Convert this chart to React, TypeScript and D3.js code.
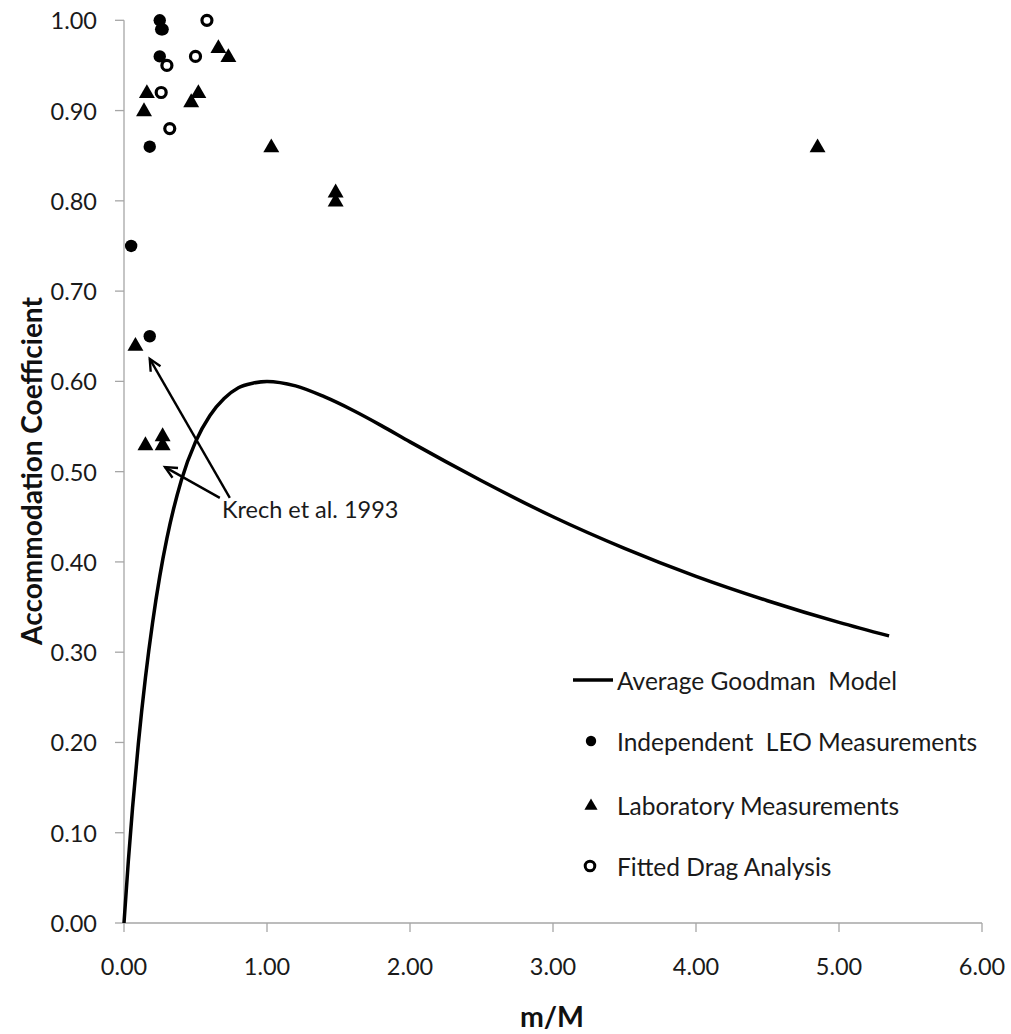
import React from "react";
import * as d3 from "d3";

// Average Goodman model curve (m/M, accommodation coefficient)
const modelX = [0, 0.03, 0.06, 0.1, 0.15, 0.2, 0.25, 0.3, 0.4, 0.5, 0.6, 0.7, 0.8, 0.9, 1.0, 1.2, 1.4, 1.6, 1.8, 2.0, 2.5, 3.0, 3.5, 4.0, 4.5, 5.0, 5.35];
const modelY = [0, 0.068, 0.128, 0.198, 0.272, 0.333, 0.384, 0.426, 0.49, 0.533, 0.562, 0.581, 0.593, 0.598, 0.6, 0.595, 0.583, 0.568, 0.551, 0.533, 0.49, 0.45, 0.415, 0.384, 0.357, 0.333, 0.318];

// Independent LEO measurements
const leoX = [0.25, 0.26, 0.27, 0.25, 0.18, 0.05, 0.18];
const leoY = [1.0, 0.99, 0.99, 0.96, 0.86, 0.75, 0.65];

// Laboratory measurements
const labX = [0.66, 0.73, 0.16, 0.14, 0.52, 0.47, 1.03, 1.48, 1.48, 4.85, 0.08, 0.15, 0.27, 0.27];
const labY = [0.97, 0.96, 0.92, 0.9, 0.92, 0.91, 0.86, 0.81, 0.8, 0.86, 0.64, 0.53, 0.54, 0.53];

// Fitted drag analysis
const dragX = [0.58, 0.5, 0.3, 0.26, 0.32];
const dragY = [1.0, 0.96, 0.95, 0.92, 0.88];

// Axis ticks
const xTicks = [0, 1, 2, 3, 4, 5, 6];
const yTicks = [0, 0.1, 0.2, 0.3, 0.4, 0.5, 0.6, 0.7, 0.8, 0.9, 1.0];

// Annotation arrows: [tailX, tailY, tipX, tipY]
const arrows = [
  [0.74, 0.471, 0.18, 0.625],
  [0.67, 0.471, 0.287, 0.505],
];
const noteText = "Krech et al. 1993";
const notePos = [0.685, 0.449];

const legendItems = [
  { kind: "line", label: "Average Goodman  Model" },
  { kind: "dot", label: "Independent  LEO Measurements" },
  { kind: "tri", label: "Laboratory Measurements" },
  { kind: "ring", label: "Fitted Drag Analysis" },
];

const W = 1011;
const H = 1034;
const FONT = "Lato, 'Open Sans', sans-serif";
const AXIS = "#a6a6a6";

export default function App() {
  const x = d3.scaleLinear().domain([0, 6]).range([124, 982]);
  const y = d3.scaleLinear().domain([0, 1]).range([923, 20.3]);

  const line = d3
    .line<number>()
    .x((_, i) => x(modelX[i]))
    .y((d) => y(d))
    .curve(d3.curveMonotoneX);

  const tri = d3.symbol().type(d3.symbolTriangle).size(110)();
  const triSmall = d3.symbol().type(d3.symbolTriangle).size(75)();

  const arrowHead = (x1: number, y1: number, x2: number, y2: number) => {
    const ang = Math.atan2(y2 - y1, x2 - x1);
    const L = 13;
    const a = Math.PI / 7;
    const p1 = [x2 - L * Math.cos(ang - a), y2 - L * Math.sin(ang - a)];
    const p2 = [x2 - L * Math.cos(ang + a), y2 - L * Math.sin(ang + a)];
    return `M${p1[0]},${p1[1]}L${x2},${y2}L${p2[0]},${p2[1]}`;
  };

  const legendY = [680, 741, 805, 866];

  return (
    <svg
      width={W}
      height={H}
      style={{ position: "absolute", left: 0, top: 0, background: "#fff" }}
      fontFamily={FONT}
    >
      {/* axes */}
      <line x1={x(0)} x2={x(6)} y1={y(0)} y2={y(0)} stroke={AXIS} strokeWidth={1.3} />
      <line x1={x(0)} x2={x(0)} y1={y(0)} y2={y(1)} stroke={AXIS} strokeWidth={1.3} />
      {xTicks.map((t) => (
        <g key={"xt" + t}>
          <line x1={x(t)} x2={x(t)} y1={y(0)} y2={y(0) + 9} stroke={AXIS} strokeWidth={1.3} />
          <text x={x(t)} y={966} textAnchor="middle" dominantBaseline="central" fontSize={23.5} fill="#1a1a1a">
            {t.toFixed(2)}
          </text>
        </g>
      ))}
      {yTicks.map((t) => (
        <g key={"yt" + t}>
          <line x1={x(0) - 9} x2={x(0)} y1={y(t)} y2={y(t)} stroke={AXIS} strokeWidth={1.3} />
          <text x={97} y={y(t)} textAnchor="end" dominantBaseline="central" fontSize={23.5} fill="#1a1a1a">
            {t.toFixed(2)}
          </text>
        </g>
      ))}

      {/* axis titles */}
      <text x={552} y={1016} textAnchor="middle" dominantBaseline="central" fontSize={28.5} fontWeight="bold" fill="#111">
        m/M
      </text>
      <text
        transform={`translate(31,471) rotate(-90)`}
        textAnchor="middle"
        dominantBaseline="central"
        fontSize={28}
        fontWeight="bold"
        fill="#111"
      >
        Accommodation Coefficient
      </text>

      {/* model curve */}
      <path d={line(modelY) || ""} fill="none" stroke="#000" strokeWidth={3.5} />

      {/* data points */}
      {leoX.map((v, i) => (
        <circle key={"leo" + i} cx={x(v)} cy={y(leoY[i])} r={6.2} fill="#000" />
      ))}
      {labX.map((v, i) => (
        <path key={"lab" + i} d={tri || ""} transform={`translate(${x(v)},${y(labY[i]) + 1})`} fill="#000" />
      ))}
      {dragX.map((v, i) => (
        <circle key={"drag" + i} cx={x(v)} cy={y(dragY[i])} r={5} fill="#fff" stroke="#000" strokeWidth={3.2} />
      ))}

      {/* annotation */}
      {arrows.map((a, i) => {
        const x1 = x(a[0]);
        const y1 = y(a[1]);
        const x2 = x(a[2]);
        const y2 = y(a[3]);
        return (
          <g key={"ar" + i} stroke="#000" strokeWidth={2.4} fill="none">
            <line x1={x1} y1={y1} x2={x2} y2={y2} />
            <path d={arrowHead(x1, y1, x2, y2)} />
          </g>
        );
      })}
      <text x={x(notePos[0])} y={y(notePos[1])} fontSize={23.5} fill="#1a1a1a">
        {noteText}
      </text>

      {/* legend */}
      {legendItems.map((it, i) => {
        const ly = legendY[i];
        return (
          <g key={"lg" + i}>
            {it.kind === "line" && <line x1={573} x2={613} y1={ly} y2={ly} stroke="#000" strokeWidth={3.5} />}
            {it.kind === "dot" && <circle cx={591} cy={ly} r={5.2} fill="#000" />}
            {it.kind === "tri" && <path d={triSmall || ""} transform={`translate(591,${ly + 1})`} fill="#000" />}
            {it.kind === "ring" && <circle cx={590} cy={ly} r={4.8} fill="#fff" stroke="#000" strokeWidth={3} />}
            <text x={617} y={ly} dominantBaseline="central" fontSize={24.5} fill="#1a1a1a" style={{ whiteSpace: "pre" }}>
              {it.label}
            </text>
          </g>
        );
      })}
    </svg>
  );
}
